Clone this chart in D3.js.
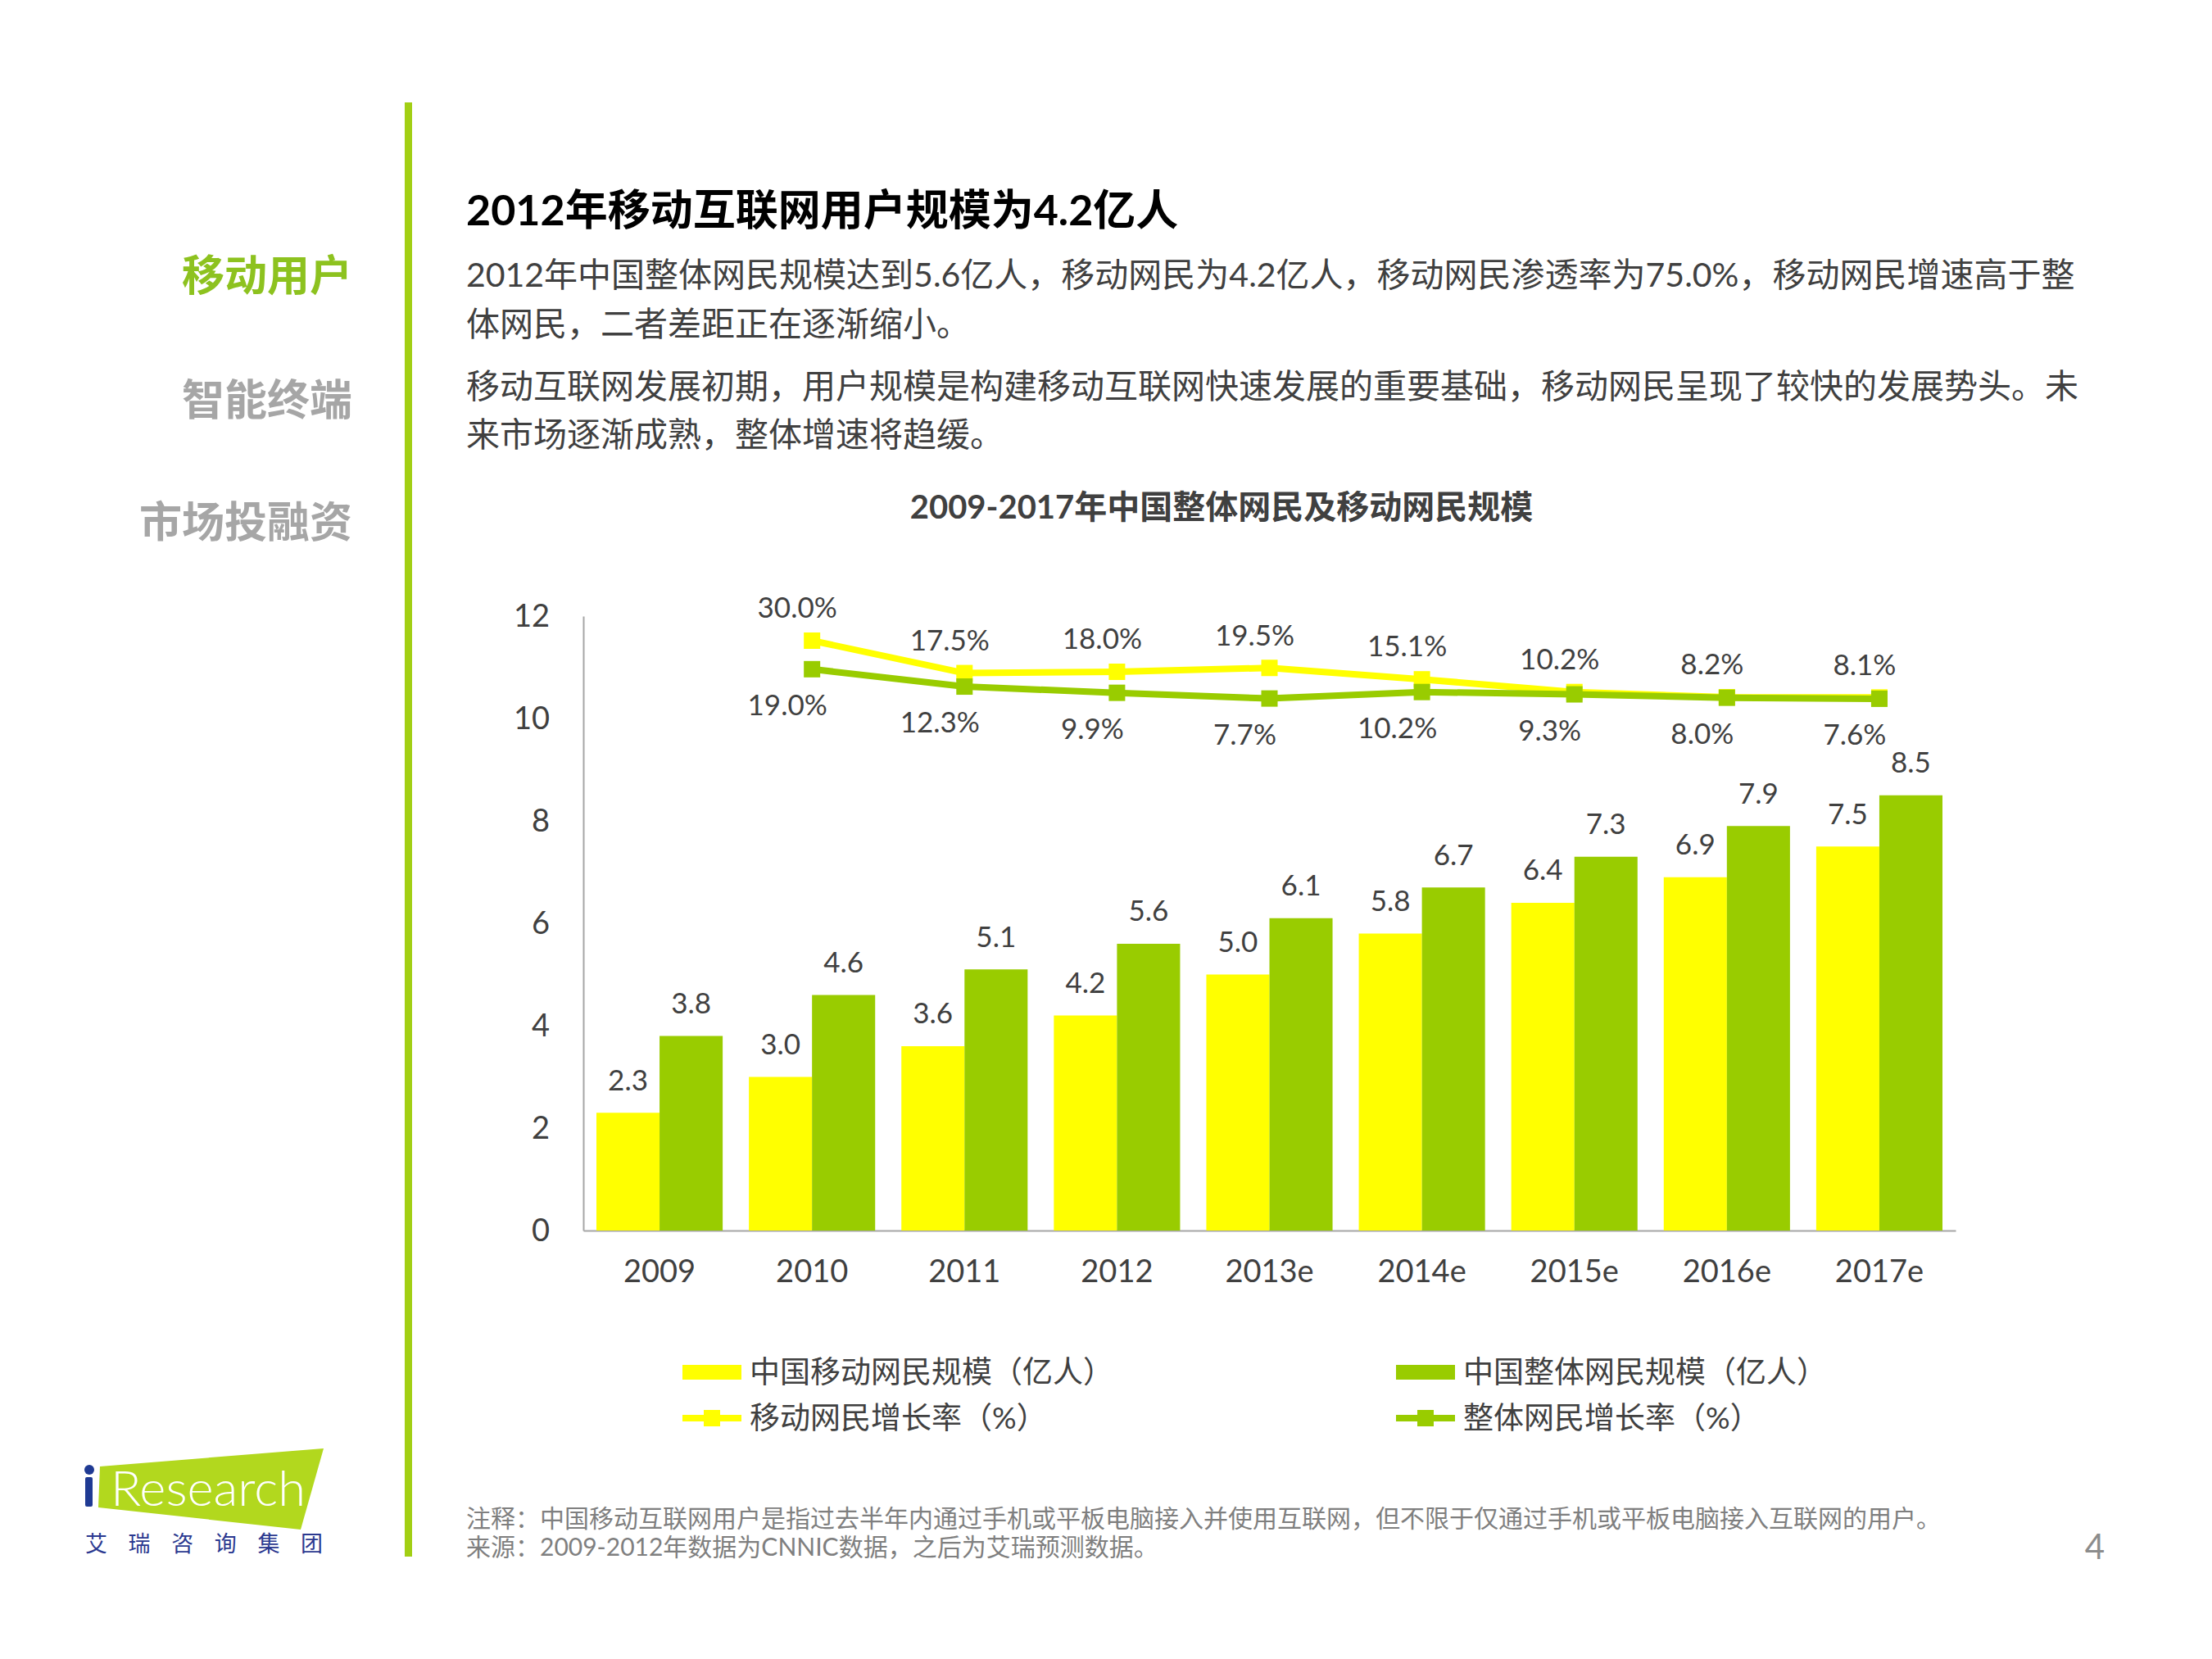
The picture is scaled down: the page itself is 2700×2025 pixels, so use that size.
<!DOCTYPE html>
<html>
<head>
<meta charset="utf-8">
<script src="https://cdn.jsdelivr.net/npm/d3@7"></script>
<style>
  html, body { margin: 0; padding: 0; background: #fff; }
  svg { display: block; }
</style>
</head>
<body>
<svg id="chart" width="2700" height="2025"></svg>
<script>
// ---------- data ----------
const years = ["2009", "2010", "2011", "2012", "2013e", "2014e", "2015e", "2016e", "2017e"];
const mobileUsers = [2.3, 3.0, 3.6, 4.2, 5.0, 5.8, 6.4, 6.9, 7.5];   // 中国移动网民规模（亿人）
const totalUsers  = [3.8, 4.6, 5.1, 5.6, 6.1, 6.7, 7.3, 7.9, 8.5];   // 中国整体网民规模（亿人）
const mobileGrowth = [null, 30.0, 17.5, 18.0, 19.5, 15.1, 10.2, 8.2, 8.1]; // 移动网民增长率（%）
const totalGrowth  = [null, 19.0, 12.3, 9.9, 7.7, 10.2, 9.3, 8.0, 7.6];    // 整体网民增长率（%）
const yTicks = [0, 2, 4, 6, 8, 10, 12];

const seriesNames = ["中国移动网民规模（亿人）", "中国整体网民规模（亿人）", "移动网民增长率（%）", "整体网民增长率（%）"];
const navItems = ["移动用户", "智能终端", "市场投融资"];
const pageTitle = "2012年移动互联网用户规模为4.2亿人";
const bodyLines = [
  "2012年中国整体网民规模达到5.6亿人，移动网民为4.2亿人，移动网民渗透率为75.0%，移动网民增速高于整",
  "体网民，二者差距正在逐渐缩小。",
  "移动互联网发展初期，用户规模是构建移动互联网快速发展的重要基础，移动网民呈现了较快的发展势头。未",
  "来市场逐渐成熟，整体增速将趋缓。"
];
const chartTitle = "2009-2017年中国整体网民及移动网民规模";
const footLines = [
  "注释：中国移动互联网用户是指过去半年内通过手机或平板电脑接入并使用互联网，但不限于仅通过手机或平板电脑接入互联网的用户。",
  "来源：2009-2012年数据为CNNIC数据，之后为艾瑞预测数据。"
];

// ---------- style ----------
const YELLOW = "#FFFF00", GREEN = "#99CC00", TEXT = "#404040", AXIS = "#A6A6A6";
const FONT = "Lato, 'Noto Sans CJK SC', sans-serif";
const CJK = "'Noto Sans CJK SC', sans-serif";

const svg = d3.select("#chart");
svg.append("rect").attr("width", 2700).attr("height", 2025).attr("fill", "#fff");

// ---------- page frame ----------
svg.append("rect").attr("x", 494).attr("y", 125).attr("width", 9).attr("height", 1775).attr("fill", "#A2CF14");

svg.selectAll("text.nav").data(navItems).join("text")
  .attr("class", "nav")
  .attr("x", 430).attr("y", (d, i) => [337, 489, 638][i])
  .attr("dy", "0.35em").attr("text-anchor", "end")
  .attr("font-family", CJK).attr("font-weight", 700).attr("font-size", 52)
  .attr("fill", (d, i) => i === 0 ? "#8DC21F" : "#A6A6A6")
  .text(d => d);

svg.append("text").attr("x", 569).attr("y", 257).attr("dy", "0.35em")
  .attr("font-family", FONT).attr("font-weight", 700).attr("font-size", 52)
  .attr("fill", "#000").text(pageTitle);

svg.selectAll("text.body").data(bodyLines).join("text")
  .attr("class", "body")
  .attr("x", 569).attr("y", (d, i) => [336, 396, 472, 531][i]).attr("dy", "0.35em")
  .attr("font-family", FONT).attr("font-size", 41).attr("fill", TEXT)
  .text(d => d);

svg.append("text").attr("x", 1491).attr("y", 619).attr("dy", "0.35em").attr("text-anchor", "middle")
  .attr("font-family", FONT).attr("font-weight", 700).attr("font-size", 40).attr("fill", TEXT)
  .text(chartTitle);

// ---------- scales ----------
const x = d3.scaleBand().domain(years).range([712, 2387]).paddingInner(0.172).paddingOuter(0.086);
const xs = d3.scaleBand().domain(["mobile", "total"]).range([0, x.bandwidth()]);
const y = d3.scaleLinear().domain([0, 12]).range([1502, 752]);
const yRate = d3.scaleLinear().domain([0, 30]).range([877, 782]);
const cx = d => x(d) + x.bandwidth() / 2;

// ---------- axes ----------
const gy = svg.append("g").attr("transform", "translate(712,0)")
  .call(d3.axisLeft(y).tickValues(yTicks).tickSize(0).tickPadding(41));
gy.select(".domain").attr("stroke", AXIS).attr("stroke-width", 2);
gy.selectAll("text").attr("font-family", FONT).attr("font-size", 38).attr("fill", TEXT);

const gx = svg.append("g").attr("transform", "translate(0,1502)")
  .call(d3.axisBottom(x).tickSize(0).tickPadding(36));
gx.select(".domain").attr("stroke", AXIS).attr("stroke-width", 2);
gx.selectAll("text").attr("font-family", FONT).attr("font-size", 38).attr("fill", TEXT);

// ---------- bars ----------
const barData = years.flatMap((yr, i) => [
  { yr, key: "mobile", v: mobileUsers[i], c: YELLOW },
  { yr, key: "total", v: totalUsers[i], c: GREEN }
]);
svg.append("g").selectAll("rect").data(barData).join("rect")
  .attr("x", d => x(d.yr) + xs(d.key))
  .attr("width", xs.bandwidth())
  .attr("y", d => y(d.v))
  .attr("height", d => y(0) - y(d.v))
  .attr("fill", d => d.c);

svg.append("g").selectAll("text").data(barData).join("text")
  .attr("x", d => x(d.yr) + xs(d.key) + xs.bandwidth() / 2)
  .attr("y", d => y(d.v) - 40).attr("dy", "0.35em")
  .attr("text-anchor", "middle")
  .attr("font-family", FONT).attr("font-size", 35).attr("fill", TEXT)
  .text(d => d3.format(".1f")(d.v));

// ---------- lines ----------
const fmtPct = v => d3.format(".1f")(v) + "%";
function drawLine(vals, color) {
  const pts = years.map((yr, i) => ({ yr, v: vals[i] })).filter(d => d.v != null);
  const line = d3.line().x(d => cx(d.yr)).y(d => yRate(d.v));
  svg.append("path").datum(pts).attr("d", line)
    .attr("fill", "none").attr("stroke", color).attr("stroke-width", 8).attr("stroke-linejoin", "round");
  svg.append("g").selectAll("rect").data(pts).join("rect")
    .attr("x", d => cx(d.yr) - 10).attr("y", d => yRate(d.v) - 10)
    .attr("width", 20).attr("height", 20).attr("fill", color);
  return pts;
}
const yPts = drawLine(mobileGrowth, YELLOW);
const gPts = drawLine(totalGrowth, GREEN);

svg.append("g").selectAll("text").data(yPts).join("text")
  .attr("x", d => cx(d.yr) - 18).attr("y", d => yRate(d.v) - 40).attr("dy", "0.35em")
  .attr("text-anchor", "middle").attr("font-family", FONT).attr("font-size", 35).attr("fill", TEXT)
  .text(d => fmtPct(d.v));
svg.append("g").selectAll("text").data(gPts).join("text")
  .attr("x", d => cx(d.yr) - 30).attr("y", d => yRate(d.v) + 44).attr("dy", "0.35em")
  .attr("text-anchor", "middle").attr("font-family", FONT).attr("font-size", 35).attr("fill", TEXT)
  .text(d => fmtPct(d.v));

// ---------- legend ----------
const legendItems = [
  { name: seriesNames[0], c: YELLOW, type: "bar", lx: 833, ly: 1675 },
  { name: seriesNames[1], c: GREEN, type: "bar", lx: 1704, ly: 1675 },
  { name: seriesNames[2], c: YELLOW, type: "line", lx: 833, ly: 1731 },
  { name: seriesNames[3], c: GREEN, type: "line", lx: 1704, ly: 1731 }
];
const lg = svg.append("g").selectAll("g").data(legendItems).join("g")
  .attr("transform", d => `translate(${d.lx},${d.ly})`);
lg.filter(d => d.type === "bar").append("rect")
  .attr("x", 0).attr("y", -9).attr("width", 72).attr("height", 18).attr("fill", d => d.c);
lg.filter(d => d.type === "line").append("line")
  .attr("x1", 0).attr("x2", 72).attr("y1", 0).attr("y2", 0)
  .attr("stroke", d => d.c).attr("stroke-width", 8);
lg.filter(d => d.type === "line").append("rect")
  .attr("x", 26).attr("y", -10).attr("width", 20).attr("height", 20).attr("fill", d => d.c);
lg.append("text").attr("x", 82).attr("y", 0).attr("dy", "0.35em")
  .attr("font-family", FONT).attr("font-size", 37).attr("fill", TEXT)
  .text(d => d.name);

// ---------- footer ----------
svg.selectAll("text.foot").data(footLines).join("text")
  .attr("class", "foot")
  .attr("x", 569).attr("y", (d, i) => [1853, 1888][i]).attr("dy", "0.35em")
  .attr("font-family", FONT).attr("font-size", 30).attr("fill", "#7F7F7F")
  .text(d => d);
svg.append("text").attr("x", 2557).attr("y", 1888).attr("dy", "0.35em").attr("text-anchor", "middle")
  .attr("font-family", FONT).attr("font-size", 42).attr("fill", "#8C8C8C").text("4");

// ---------- logo ----------
const logo = svg.append("g");
logo.append("polygon").attr("points", "122,1790 395,1768 367,1867 120,1840").attr("fill", "#B2D81E");
logo.append("circle").attr("cx", 109).attr("cy", 1794).attr("r", 6).attr("fill", "#1F3A93");
logo.append("rect").attr("x", 104).attr("y", 1803).attr("width", 9).attr("height", 36).attr("rx", 2).attr("fill", "#1F3A93");
logo.append("text").attr("x", 135).attr("y", 1838)
  .attr("font-family", "Lato, sans-serif").attr("font-weight", 300).attr("font-size", 60)
  .attr("textLength", 238).attr("lengthAdjust", "spacingAndGlyphs")
  .attr("fill", "#fff").text("Research");
logo.append("text").attr("x", 104).attr("y", 1885).attr("dy", "0.35em")
  .attr("font-family", CJK).attr("font-size", 27)
  .attr("textLength", 290).attr("lengthAdjust", "spacing")
  .attr("fill", "#2B3990").text("艾瑞咨询集团");
</script>
</body>
</html>
